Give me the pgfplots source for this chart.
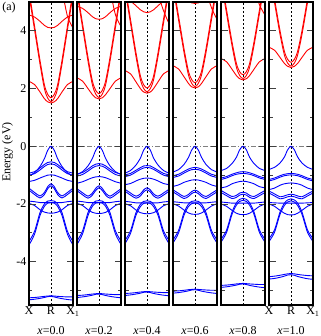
\documentclass[border=0pt]{standalone}
\usepackage{fontspec}
\setmainfont{Liberation Serif}
\usepackage{pgfplots}
\usepackage{pgfplotstable}
\pgfplotsset{compat=1.18}
\definecolor{cband}{HTML}{FF0000}
\definecolor{vband}{HTML}{0000FF}
\newcommand{\lab}{\fontsize{12}{13}\selectfont}

% columns: x, conduction c1..c5, valence v1..v12
\pgfplotstableread{
x c1 c2 c3 c4 c5 v1 v2 v3 v4 v5 v6 v7 v8 v9 v10 v11 v12
0 2.25 5.25 5.38 4.55 4.9 -1.02 -0.93 -1.0 -1.22 -1.45 -1.52 -1.9 -1.98 -3.3 -3.42 -5.25 -5.32
0.25 2.14 4.05 4.18 4.48 5.25 -0.92 -0.88 -0.95 -1.18 -1.6 -1.67 -1.92 -2.05 -2.95 -3.05 -5.24 -5.3
0.5 1.88 2.85 2.98 4.33 5.6 -0.7 -0.75 -0.82 -1.1 -1.72 -1.79 -1.95 -2.2 -2.3 -2.4 -5.22 -5.27
0.7 1.65 2.0 2.13 4.19 5.8 -0.43 -0.63 -0.7 -1.04 -1.6 -1.67 -1.95 -2.28 -2.0 -2.08 -5.2 -5.24
0.85 1.54 1.67 1.8 4.12 5.9 -0.14 -0.56 -0.63 -1.0 -1.4 -1.47 -1.95 -2.31 -1.9 -1.97 -5.19 -5.21
1 1.5 1.55 1.68 4.1 5.9 0 -0.54 -0.61 -0.99 -1.3 -1.37 -1.95 -2.32 -1.88 -1.95 -5.18 -5.2
1.15 1.54 1.67 1.8 4.12 5.9 -0.14 -0.56 -0.63 -1.0 -1.4 -1.47 -1.95 -2.31 -1.9 -1.97 -5.19 -5.22
1.3 1.65 2.0 2.13 4.19 5.8 -0.43 -0.63 -0.7 -1.04 -1.6 -1.67 -1.95 -2.28 -2.0 -2.08 -5.2 -5.25
1.5 1.88 2.85 2.98 4.33 5.4 -0.7 -0.75 -0.82 -1.1 -1.72 -1.79 -1.95 -2.2 -2.3 -2.4 -5.21 -5.28
1.75 2.14 4.05 4.18 4.48 4.5 -0.92 -0.88 -0.95 -1.18 -1.6 -1.67 -1.92 -2.05 -2.95 -3.05 -5.22 -5.31
2 2.25 5.25 5.38 4.55 4.1 -1.02 -0.93 -1.0 -1.22 -1.45 -1.52 -1.9 -1.98 -3.3 -3.42 -5.22 -5.33
}\bandsA

\pgfplotstableread{
x c1 c2 c3 c4 c5 v1 v2 v3 v4 v5 v6 v7 v8 v9 v10 v11 v12
0 2.37 5.31 5.44 4.85 5.2 -0.98 -0.96 -1.03 -1.28 -1.47 -1.54 -1.9 -1.98 -3.28 -3.4 -5.17 -5.24
0.25 2.26 4.13 4.26 4.78 5.5 -0.88 -0.91 -0.98 -1.23 -1.61 -1.68 -1.92 -2.05 -2.94 -3.04 -5.16 -5.22
0.5 2.0 2.95 3.08 4.63 5.8 -0.68 -0.79 -0.86 -1.15 -1.73 -1.8 -1.95 -2.2 -2.3 -2.4 -5.14 -5.19
0.7 1.79 2.13 2.26 4.49 5.9 -0.42 -0.68 -0.75 -1.09 -1.62 -1.69 -1.95 -2.29 -2.0 -2.08 -5.12 -5.16
0.85 1.68 1.81 1.94 4.42 5.9 -0.14 -0.62 -0.69 -1.06 -1.46 -1.53 -1.95 -2.32 -1.9 -1.97 -5.11 -5.13
1 1.64 1.69 1.82 4.4 5.9 0 -0.6 -0.67 -1.05 -1.37 -1.44 -1.95 -2.33 -1.88 -1.95 -5.1 -5.12
1.15 1.68 1.81 1.94 4.42 5.9 -0.14 -0.62 -0.69 -1.06 -1.46 -1.53 -1.95 -2.32 -1.9 -1.97 -5.11 -5.14
1.3 1.79 2.13 2.26 4.49 5.8 -0.42 -0.68 -0.75 -1.09 -1.62 -1.69 -1.95 -2.29 -2.0 -2.08 -5.12 -5.17
1.5 2.0 2.95 3.08 4.63 5.4 -0.68 -0.79 -0.86 -1.15 -1.73 -1.8 -1.95 -2.2 -2.3 -2.4 -5.13 -5.2
1.75 2.26 4.13 4.26 4.78 4.55 -0.88 -0.91 -0.98 -1.23 -1.61 -1.68 -1.92 -2.05 -2.94 -3.04 -5.14 -5.23
2 2.37 5.31 5.44 4.85 4.15 -0.98 -0.96 -1.03 -1.28 -1.47 -1.54 -1.9 -1.98 -3.28 -3.4 -5.14 -5.25
}\bandsB

\pgfplotstableread{
x c1 c2 c3 c4 c5 v1 v2 v3 v4 v5 v6 v7 v8 v9 v10 v11 v12
0 2.62 5.43 5.56 5.1 5.3 -0.93 -0.99 -1.05 -1.33 -1.49 -1.56 -1.91 -1.99 -3.26 -3.37 -5.1 -5.17
0.25 2.51 4.27 4.4 5.03 5.6 -0.84 -0.94 -1.0 -1.29 -1.62 -1.69 -1.93 -2.06 -2.93 -3.02 -5.09 -5.15
0.5 2.23 3.11 3.24 4.87 5.9 -0.65 -0.83 -0.89 -1.2 -1.73 -1.8 -1.96 -2.21 -2.3 -2.39 -5.07 -5.12
0.7 2.0 2.31 2.44 4.73 5.9 -0.41 -0.74 -0.8 -1.14 -1.65 -1.72 -1.96 -2.3 -2.01 -2.09 -5.05 -5.09
0.85 1.88 2.0 2.13 4.66 5.9 -0.13 -0.68 -0.75 -1.11 -1.51 -1.58 -1.96 -2.33 -1.91 -1.98 -5.04 -5.06
1 1.84 1.89 2.02 4.63 5.9 0 -0.67 -0.73 -1.1 -1.44 -1.51 -1.96 -2.34 -1.89 -1.96 -5.03 -5.05
1.15 1.88 2.0 2.13 4.66 5.9 -0.13 -0.68 -0.75 -1.11 -1.51 -1.58 -1.96 -2.33 -1.91 -1.98 -5.04 -5.07
1.3 2.0 2.31 2.44 4.73 5.9 -0.41 -0.74 -0.8 -1.14 -1.65 -1.72 -1.96 -2.3 -2.01 -2.09 -5.05 -5.1
1.5 2.23 3.11 3.24 4.87 5.3 -0.65 -0.83 -0.89 -1.2 -1.73 -1.8 -1.96 -2.21 -2.3 -2.39 -5.06 -5.13
1.75 2.51 4.27 4.4 5.03 4.7 -0.84 -0.94 -1.0 -1.29 -1.62 -1.69 -1.93 -2.06 -2.93 -3.02 -5.07 -5.16
2 2.62 5.43 5.56 5.1 4.25 -0.93 -0.99 -1.05 -1.33 -1.49 -1.56 -1.91 -1.99 -3.26 -3.37 -5.07 -5.18
}\bandsC

\pgfplotstableread{
x c1 c2 c3 c4 c5 v1 v2 v3 v4 v5 v6 v7 v8 v9 v10 v11 v12
0 2.79 5.53 5.66 5.4 5.4 -0.89 -1.02 -1.08 -1.39 -1.51 -1.58 -1.92 -1.99 -3.24 -3.35 -5.02 -5.09
0.25 2.68 4.39 4.52 5.33 5.7 -0.81 -0.97 -1.03 -1.34 -1.63 -1.7 -1.94 -2.07 -2.92 -3.01 -5.01 -5.07
0.5 2.41 3.25 3.38 5.17 5.9 -0.63 -0.87 -0.93 -1.25 -1.74 -1.81 -1.96 -2.21 -2.3 -2.39 -4.99 -5.04
0.7 2.18 2.48 2.61 5.04 5.9 -0.39 -0.79 -0.85 -1.2 -1.67 -1.74 -1.96 -2.31 -2.01 -2.09 -4.97 -5.01
0.85 2.06 2.18 2.31 4.97 5.9 -0.13 -0.75 -0.81 -1.17 -1.57 -1.64 -1.96 -2.35 -1.91 -1.99 -4.96 -4.98
1 2.02 2.07 2.2 4.95 5.9 0 -0.73 -0.8 -1.16 -1.52 -1.59 -1.96 -2.36 -1.89 -1.96 -4.95 -4.97
1.15 2.06 2.18 2.31 4.97 5.9 -0.13 -0.75 -0.81 -1.17 -1.57 -1.64 -1.96 -2.35 -1.91 -1.99 -4.96 -4.99
1.3 2.18 2.48 2.61 5.04 5.9 -0.39 -0.79 -0.85 -1.2 -1.67 -1.74 -1.96 -2.31 -2.01 -2.09 -4.97 -5.02
1.5 2.41 3.25 3.38 5.17 5.4 -0.63 -0.87 -0.93 -1.25 -1.74 -1.81 -1.96 -2.21 -2.3 -2.39 -4.98 -5.05
1.75 2.68 4.39 4.52 5.33 4.8 -0.81 -0.97 -1.03 -1.34 -1.63 -1.7 -1.94 -2.07 -2.92 -3.01 -4.99 -5.08
2 2.79 5.53 5.66 5.4 4.4 -0.89 -1.02 -1.08 -1.39 -1.51 -1.58 -1.92 -1.99 -3.24 -3.35 -4.99 -5.1
}\bandsD

\pgfplotstableread{
x c1 c2 c3 c4 c5 v1 v2 v3 v4 v5 v6 v7 v8 v9 v10 v11 v12
0 3.04 5.73 5.86 5.8 5.6 -0.84 -1.1 -1.15 -1.44 -1.53 -1.6 -1.93 -2.0 -3.22 -3.32 -4.82 -4.89
0.25 2.93 4.61 4.74 5.8 5.9 -0.77 -1.05 -1.1 -1.4 -1.64 -1.71 -1.95 -2.08 -2.91 -2.99 -4.81 -4.87
0.5 2.67 3.49 3.62 5.6 5.9 -0.6 -0.97 -1.02 -1.3 -1.74 -1.81 -1.97 -2.22 -2.28 -2.36 -4.79 -4.84
0.7 2.45 2.74 2.87 5.45 5.9 -0.38 -0.92 -0.97 -1.25 -1.7 -1.77 -1.97 -2.32 -1.96 -2.04 -4.77 -4.81
0.85 2.34 2.45 2.58 5.4 5.9 -0.12 -0.89 -0.95 -1.22 -1.62 -1.69 -1.97 -2.36 -1.84 -1.91 -4.76 -4.78
1 2.3 2.35 2.48 5.38 5.9 0 -0.88 -0.94 -1.21 -1.59 -1.66 -1.97 -2.37 -1.8 -1.87 -4.75 -4.77
1.15 2.34 2.45 2.58 5.4 5.9 -0.12 -0.89 -0.95 -1.22 -1.62 -1.69 -1.97 -2.36 -1.84 -1.91 -4.76 -4.79
1.3 2.45 2.74 2.87 5.45 5.9 -0.38 -0.92 -0.97 -1.25 -1.7 -1.77 -1.97 -2.32 -1.96 -2.04 -4.77 -4.82
1.5 2.67 3.49 3.62 5.6 5.5 -0.6 -0.97 -1.02 -1.3 -1.74 -1.81 -1.97 -2.22 -2.28 -2.36 -4.78 -4.85
1.75 2.93 4.61 4.74 5.8 4.9 -0.77 -1.05 -1.1 -1.4 -1.64 -1.71 -1.95 -2.08 -2.91 -2.99 -4.79 -4.88
2 3.04 5.73 5.86 5.8 4.55 -0.84 -1.1 -1.15 -1.44 -1.53 -1.6 -1.93 -2.0 -3.22 -3.32 -4.79 -4.9
}\bandsE

\pgfplotstableread{
x c1 c2 c3 c4 c5 v1 v2 v3 v4 v5 v6 v7 v8 v9 v10 v11 v12
0 3.43 6.08 6.21 5.9 5.9 -0.8 -1.15 -1.2 -1.5 -1.55 -1.62 -1.95 -2.0 -3.2 -3.3 -4.52 -4.6
0.25 3.33 4.98 5.11 5.9 5.9 -0.73 -1.1 -1.15 -1.45 -1.65 -1.72 -1.96 -2.08 -2.9 -2.98 -4.5 -4.58
0.5 3.08 3.88 4.01 5.9 5.9 -0.58 -1.02 -1.07 -1.35 -1.75 -1.82 -1.97 -2.22 -2.28 -2.36 -4.47 -4.54
0.7 2.87 3.16 3.29 5.9 5.9 -0.37 -0.97 -1.02 -1.3 -1.72 -1.79 -1.97 -2.32 -1.97 -2.05 -4.44 -4.5
0.85 2.77 2.88 3.01 5.9 5.9 -0.12 -0.95 -1.0 -1.28 -1.68 -1.75 -1.97 -2.37 -1.86 -1.93 -4.42 -4.46
1 2.73 2.78 2.91 5.9 5.9 0 -0.94 -0.99 -1.27 -1.66 -1.73 -1.97 -2.38 -1.82 -1.89 -4.41 -4.45
1.15 2.77 2.88 3.01 5.9 5.9 -0.12 -0.95 -1.0 -1.28 -1.68 -1.75 -1.97 -2.37 -1.86 -1.93 -4.42 -4.47
1.3 2.87 3.16 3.29 5.9 5.9 -0.37 -0.97 -1.02 -1.3 -1.72 -1.79 -1.97 -2.32 -1.97 -2.05 -4.44 -4.51
1.5 3.08 3.88 4.01 5.9 5.9 -0.58 -1.02 -1.07 -1.35 -1.75 -1.82 -1.97 -2.22 -2.28 -2.36 -4.46 -4.55
1.75 3.33 4.98 5.11 5.9 5.9 -0.73 -1.1 -1.15 -1.45 -1.65 -1.72 -1.96 -2.08 -2.9 -2.98 -4.48 -4.59
2 3.43 6.08 6.21 5.9 5.9 -0.8 -1.15 -1.2 -1.5 -1.55 -1.62 -1.95 -2.0 -3.2 -3.3 -4.49 -4.61
}\bandsF

\pgfplotsset{
  panel/.style={
    scale only axis, width=44pt, height=303pt,
    xmin=0, xmax=2, ymin=-5.5, ymax=5,
    axis on top,
    axis line style={line width=1.2pt},
    xtick={0,1,2}, xticklabels={}, major x tick style={draw=none},
    ytick={-4,-2,0,2,4}, minor ytick={-5,-3,-1,1,3}, yticklabels={},
    tick align=inside,
    major tick length=6.5pt, minor tick length=3.5pt,
    every tick/.style={black!75, line width=0.9pt},
    tick label style={font=\lab},
    yticklabel style={xshift=1pt},
    xticklabel style={yshift=2pt},
    every axis plot/.append style={line width=0.9pt, smooth, tension=0.5},
  },
}

\newcommand{\bands}[1]{%
  \addplot[gray, sharp plot, line width=0.8pt, dash pattern=on 5pt off 2pt on 1pt off 2pt] coordinates {(0,0) (2,0)};
  \addplot[black, sharp plot, line width=0.5pt, dash pattern=on 2pt off 2pt] coordinates {(1,-5.5) (1,5)};
  \addplot[cband] table[x=x, y=c1] {#1};
  \addplot[cband] table[x=x, y=c2] {#1};
  \addplot[cband] table[x=x, y=c3] {#1};
  \addplot[cband] table[x=x, y=c4] {#1};
  \addplot[cband] table[x=x, y=c5] {#1};
  \addplot[vband] table[x=x, y=v1] {#1};
  \addplot[vband] table[x=x, y=v2] {#1};
  \addplot[vband] table[x=x, y=v3] {#1};
  \addplot[vband] table[x=x, y=v4] {#1};
  \addplot[vband] table[x=x, y=v5] {#1};
  \addplot[vband] table[x=x, y=v6] {#1};
  \addplot[vband] table[x=x, y=v7] {#1};
  \addplot[vband] table[x=x, y=v8] {#1};
  \addplot[vband] table[x=x, y=v9] {#1};
  \addplot[vband] table[x=x, y=v10] {#1};
  \addplot[vband] table[x=x, y=v11] {#1};
  \addplot[vband] table[x=x, y=v12] {#1};
}

\begin{document}
\begin{tikzpicture}
\begin{axis}[panel, at={(0pt,0pt)}, yticklabels={-4,-2,0,2,4}, xticklabels={X,R,X$_1$}]
\bands{\bandsA}
\end{axis}
\begin{axis}[panel, at={(48pt,0pt)}]
\bands{\bandsB}
\end{axis}
\begin{axis}[panel, at={(96pt,0pt)}]
\bands{\bandsC}
\end{axis}
\begin{axis}[panel, at={(144pt,0pt)}]
\bands{\bandsD}
\end{axis}
\begin{axis}[panel, at={(192pt,0pt)}]
\bands{\bandsE}
\end{axis}
\begin{axis}[panel, at={(240pt,0pt)}, xticklabels={X,R,X$_1$}]
\bands{\bandsF}
\end{axis}

\node[font=\lab] at (-20pt,297pt) {(a)};
\node[font=\lab, rotate=90] at (-21.5pt,153pt) {Energy (eV)};
\node[font=\lab] at (22pt,-26pt) {\textit{x}=0.0};
\node[font=\lab] at (70pt,-26pt) {\textit{x}=0.2};
\node[font=\lab] at (118pt,-26pt) {\textit{x}=0.4};
\node[font=\lab] at (166pt,-26pt) {\textit{x}=0.6};
\node[font=\lab] at (214pt,-26pt) {\textit{x}=0.8};
\node[font=\lab] at (262pt,-26pt) {\textit{x}=1.0};

\pgfresetboundingbox
\path[use as bounding box] (-29pt,-31pt) rectangle (291pt,305pt);
\end{tikzpicture}
\end{document}
